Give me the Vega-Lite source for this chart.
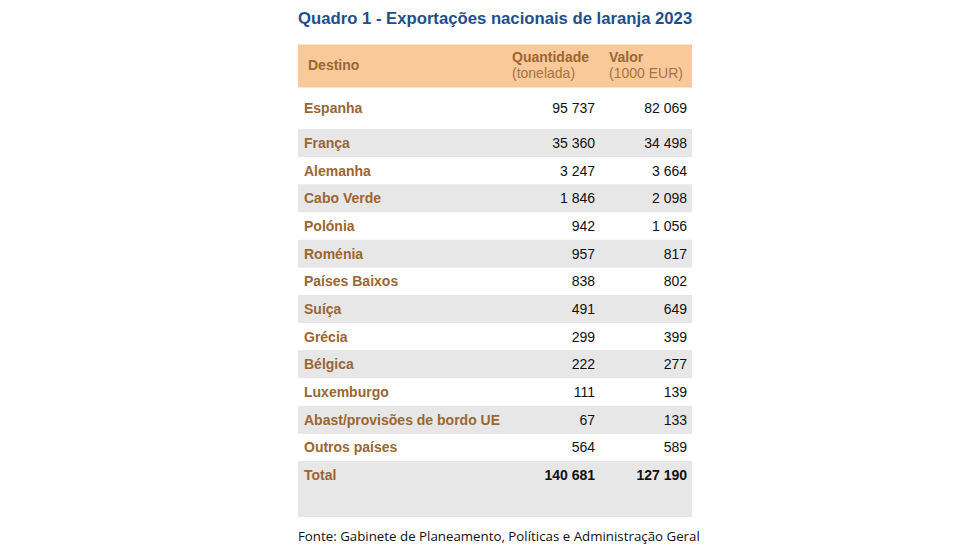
{
  "$schema": "https://vega.github.io/schema/vega-lite/v6.json",
  "width": 980,
  "height": 560,
  "padding": 0,
  "autosize": "none",
  "background": "white",
  "config": {
    "view": {"stroke": null},
    "locale": {"number": {"decimal": ",", "thousands": " ", "grouping": [3], "currency": ["", " €"]}}
  },
  "data": {"values": [
    {"destino": "Espanha", "quantidade": 95737, "valor": 82069, "idx": 1},
    {"destino": "França", "quantidade": 35360, "valor": 34498, "idx": 2},
    {"destino": "Alemanha", "quantidade": 3247, "valor": 3664, "idx": 3},
    {"destino": "Cabo Verde", "quantidade": 1846, "valor": 2098, "idx": 4},
    {"destino": "Polónia", "quantidade": 942, "valor": 1056, "idx": 5},
    {"destino": "Roménia", "quantidade": 957, "valor": 817, "idx": 6},
    {"destino": "Países Baixos", "quantidade": 838, "valor": 802, "idx": 7},
    {"destino": "Suíça", "quantidade": 491, "valor": 649, "idx": 8},
    {"destino": "Grécia", "quantidade": 299, "valor": 399, "idx": 9},
    {"destino": "Bélgica", "quantidade": 222, "valor": 277, "idx": 10},
    {"destino": "Luxemburgo", "quantidade": 111, "valor": 139, "idx": 11},
    {"destino": "Abast/provisões de bordo UE", "quantidade": 67, "valor": 133, "idx": 12},
    {"destino": "Outros países", "quantidade": 564, "valor": 589, "idx": 13},
    {"destino": "Total", "quantidade": 140681, "valor": 127190, "idx": 14}
  ]},
  "encoding": {
    "y": {"field": "idx", "type": "quantitative", "axis": null,
      "scale": {"domain": [-1, 0, 1, 2, 14, 16], "range": [19, 66, 108, 143, 475, 537], "zero": false, "nice": false}}
  },
  "layer": [
    {
      "data": {"values": [{"idx": 0}]},
      "mark": {"type": "rule", "color": "#FAC999", "strokeWidth": 43, "strokeCap": "butt"},
      "encoding": {"x": {"value": 298}, "x2": {"value": 692}}
    },
    {
      "transform": [{"filter": "datum.idx % 2 == 0 && datum.idx < 14"}],
      "mark": {"type": "rule", "color": "#E7E7E7", "strokeWidth": 28, "strokeCap": "butt"},
      "encoding": {"x": {"value": 298}, "x2": {"value": 692}}
    },
    {
      "transform": [{"filter": "datum.idx == 14"}],
      "mark": {"type": "rule", "color": "#E7E7E7", "strokeWidth": 56, "strokeCap": "butt", "yOffset": 14},
      "encoding": {"x": {"value": 298}, "x2": {"value": 692}}
    },
    {
      "mark": {"type": "text", "align": "left", "baseline": "middle", "dy": 1, "font": "Liberation Sans", "fontSize": 14, "fontWeight": "bold", "color": "#9B6631"},
      "encoding": {"x": {"value": 304}, "text": {"field": "destino"}}
    },
    {
      "transform": [{"filter": "datum.idx < 14"}],
      "mark": {"type": "text", "align": "right", "baseline": "middle", "dy": 1, "font": "Liberation Sans", "fontSize": 14, "color": "#111111"},
      "encoding": {"x": {"value": 595}, "text": {"field": "quantidade", "format": ",d"}}
    },
    {
      "transform": [{"filter": "datum.idx < 14"}],
      "mark": {"type": "text", "align": "right", "baseline": "middle", "dy": 1, "font": "Liberation Sans", "fontSize": 14, "color": "#111111"},
      "encoding": {"x": {"value": 687}, "text": {"field": "valor", "format": ",d"}}
    },
    {
      "transform": [{"filter": "datum.idx == 14"}],
      "mark": {"type": "text", "align": "right", "baseline": "middle", "dy": 1, "font": "Liberation Sans", "fontSize": 14, "fontWeight": "bold", "color": "#111111"},
      "encoding": {"x": {"value": 595}, "text": {"field": "quantidade", "format": ",d"}}
    },
    {
      "transform": [{"filter": "datum.idx == 14"}],
      "mark": {"type": "text", "align": "right", "baseline": "middle", "dy": 1, "font": "Liberation Sans", "fontSize": 14, "fontWeight": "bold", "color": "#111111"},
      "encoding": {"x": {"value": 687}, "text": {"field": "valor", "format": ",d"}}
    },
    {
      "data": {"values": [{"label": "Destino", "idx": 0}]},
      "mark": {"type": "text", "align": "left", "baseline": "middle", "dy": 0, "font": "Liberation Sans", "fontSize": 14, "fontWeight": "bold", "color": "#9B6631"},
      "encoding": {"x": {"value": 308}, "text": {"field": "label"}}
    },
    {
      "data": {"values": [{"label": "Quantidade", "idx": 0}]},
      "mark": {"type": "text", "align": "left", "baseline": "middle", "dy": -8, "font": "Liberation Sans", "fontSize": 14, "fontWeight": "bold", "color": "#9B6631"},
      "encoding": {"x": {"value": 512}, "text": {"field": "label"}}
    },
    {
      "data": {"values": [{"label": "Valor", "idx": 0}]},
      "mark": {"type": "text", "align": "left", "baseline": "middle", "dy": -8, "font": "Liberation Sans", "fontSize": 14, "fontWeight": "bold", "color": "#9B6631"},
      "encoding": {"x": {"value": 609}, "text": {"field": "label"}}
    },
    {
      "data": {"values": [{"label": "(tonelada)", "idx": 0}]},
      "mark": {"type": "text", "align": "left", "baseline": "middle", "dy": 8, "font": "Liberation Sans", "fontSize": 14, "color": "#A5743F"},
      "encoding": {"x": {"value": 512}, "text": {"field": "label"}}
    },
    {
      "data": {"values": [{"label": "(1000 EUR)", "idx": 0}]},
      "mark": {"type": "text", "align": "left", "baseline": "middle", "dy": 8, "font": "Liberation Sans", "fontSize": 14, "color": "#A5743F"},
      "encoding": {"x": {"value": 609}, "text": {"field": "label"}}
    },
    {
      "data": {"values": [{"label": "Quadro 1 - Exportações nacionais de laranja 2023", "idx": -1}]},
      "mark": {"type": "text", "align": "left", "baseline": "middle", "font": "Liberation Sans", "fontSize": 16.7, "fontWeight": "bold", "color": "#1F4E8C"},
      "encoding": {"x": {"value": 298}, "text": {"field": "label"}}
    },
    {
      "data": {"values": [{"label": "Fonte: Gabinete de Planeamento, Políticas e Administração Geral", "idx": 16}]},
      "mark": {"type": "text", "align": "left", "baseline": "middle", "font": "Open Sans", "fontSize": 13.3, "color": "#111111"},
      "encoding": {"x": {"value": 298}, "text": {"field": "label"}}
    }
  ]
}
